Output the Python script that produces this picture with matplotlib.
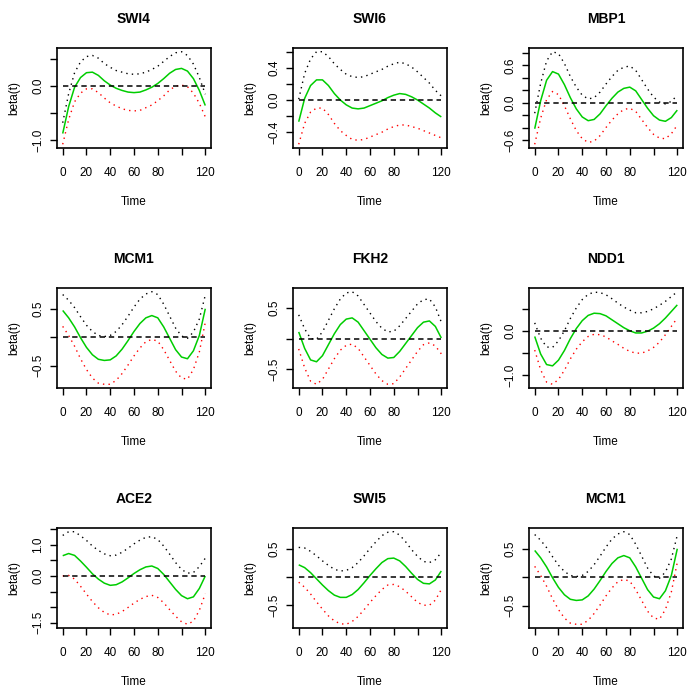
import numpy as np
import matplotlib
matplotlib.use("Agg")
import matplotlib.pyplot as plt

plt.rcParams['font.family'] = ['Liberation Sans', 'DejaVu Sans']

# time grid (minutes)
time = [0, 5, 10, 15, 20, 25, 30, 35, 40, 45, 50, 55, 60,
        65, 70, 75, 80, 85, 90, 95, 100, 105, 110, 115, 120]

# estimated beta(t) and half width of the band (upper = est + hw, lower = est - hw)
swi4_est = [-0.88, -0.38, -0.02, 0.16, 0.25, 0.26, 0.20, 0.10, 0.02, -0.04, -0.08, -0.11, -0.12,
            -0.11, -0.07, -0.02, 0.05, 0.14, 0.24, 0.31, 0.33, 0.28, 0.14, -0.08, -0.36]
swi4_hw = [0.20, 0.24, 0.27, 0.29, 0.30, 0.31, 0.32, 0.32, 0.33, 0.33, 0.34, 0.34, 0.34,
           0.34, 0.33, 0.33, 0.32, 0.32, 0.31, 0.31, 0.31, 0.29, 0.27, 0.24, 0.21]

swi6_est = [-0.27, 0.02, 0.18, 0.25, 0.25, 0.18, 0.08, 0.00, -0.06, -0.10, -0.11, -0.10, -0.07,
            -0.04, -0.01, 0.03, 0.06, 0.08, 0.07, 0.04, 0.00, -0.05, -0.10, -0.16, -0.21]
swi6_hw = [0.28, 0.31, 0.33, 0.35, 0.35, 0.36, 0.37, 0.38, 0.38, 0.39, 0.39, 0.39, 0.39,
           0.39, 0.39, 0.39, 0.39, 0.39, 0.38, 0.37, 0.35, 0.33, 0.31, 0.28, 0.26]

mbp1_est = [-0.42, 0.03, 0.36, 0.50, 0.46, 0.29, 0.08, -0.10, -0.23, -0.29, -0.27, -0.18, -0.05,
            0.07, 0.17, 0.23, 0.25, 0.19, 0.05, -0.09, -0.21, -0.28, -0.30, -0.24, -0.12]
mbp1_hw = [0.25, 0.28, 0.31, 0.32, 0.33, 0.34, 0.34, 0.35, 0.35, 0.35, 0.35, 0.35, 0.35,
           0.35, 0.35, 0.34, 0.34, 0.33, 0.32, 0.31, 0.30, 0.29, 0.28, 0.26, 0.24]

mcm1_est = [0.47, 0.34, 0.18, -0.01, -0.18, -0.31, -0.39, -0.41, -0.40, -0.33, -0.21, -0.06, 0.10,
            0.24, 0.34, 0.38, 0.34, 0.18, -0.02, -0.22, -0.35, -0.38, -0.24, 0.03, 0.50]
mcm1_hw = [0.28, 0.31, 0.34, 0.37, 0.39, 0.41, 0.42, 0.42, 0.43, 0.43, 0.43, 0.43, 0.43,
           0.43, 0.42, 0.42, 0.41, 0.40, 0.39, 0.38, 0.37, 0.36, 0.33, 0.29, 0.24]

fkh2_est = [0.11, -0.16, -0.35, -0.38, -0.28, -0.10, 0.08, 0.23, 0.32, 0.34, 0.27, 0.13, -0.01,
            -0.15, -0.26, -0.32, -0.31, -0.21, -0.08, 0.05, 0.18, 0.27, 0.29, 0.20, 0.01]
fkh2_hw = [0.28, 0.32, 0.35, 0.37, 0.39, 0.40, 0.41, 0.42, 0.43, 0.43, 0.43, 0.43, 0.43,
           0.43, 0.43, 0.43, 0.43, 0.42, 0.41, 0.40, 0.39, 0.37, 0.36, 0.32, 0.26]

ndd1_est = [-0.12, -0.52, -0.76, -0.79, -0.66, -0.44, -0.17, 0.06, 0.24, 0.36, 0.41, 0.40, 0.35,
            0.26, 0.17, 0.08, 0.01, -0.04, -0.04, 0.00, 0.07, 0.17, 0.30, 0.45, 0.60]
ndd1_hw = [0.31, 0.36, 0.40, 0.42, 0.44, 0.45, 0.46, 0.47, 0.48, 0.48, 0.48, 0.48, 0.48,
           0.48, 0.47, 0.47, 0.47, 0.46, 0.46, 0.45, 0.44, 0.42, 0.38, 0.34, 0.30]

ace2_est = [0.65, 0.72, 0.66, 0.48, 0.28, 0.07, -0.10, -0.23, -0.30, -0.28, -0.19, -0.06, 0.08,
            0.20, 0.29, 0.32, 0.24, 0.05, -0.19, -0.43, -0.63, -0.73, -0.67, -0.40, 0.00]
ace2_hw = [0.65, 0.70, 0.76, 0.81, 0.86, 0.89, 0.92, 0.94, 0.95, 0.95, 0.95, 0.95, 0.95,
           0.95, 0.95, 0.94, 0.93, 0.91, 0.89, 0.86, 0.84, 0.82, 0.78, 0.70, 0.57]

swi5_est = [0.22, 0.17, 0.08, -0.03, -0.14, -0.24, -0.32, -0.36, -0.36, -0.31, -0.22, -0.10, 0.03,
            0.15, 0.26, 0.33, 0.34, 0.29, 0.19, 0.07, -0.04, -0.11, -0.12, -0.05, 0.11]
swi5_hw = [0.31, 0.35, 0.38, 0.41, 0.43, 0.45, 0.46, 0.47, 0.48, 0.48, 0.48, 0.48, 0.48,
           0.48, 0.48, 0.47, 0.47, 0.46, 0.44, 0.42, 0.41, 0.39, 0.38, 0.36, 0.33]

genes = ['SWI4', 'SWI6', 'MBP1', 'MCM1', 'FKH2', 'NDD1', 'ACE2', 'SWI5', 'MCM1']
estimates = [swi4_est, swi6_est, mbp1_est, mcm1_est, fkh2_est, ndd1_est, ace2_est, swi5_est, mcm1_est]
halfwidths = [swi4_hw, swi6_hw, mbp1_hw, mcm1_hw, fkh2_hw, ndd1_hw, ace2_hw, swi5_hw, mcm1_hw]

# y ticks and which of them carry a label (R drops crowded labels)
yticks = [[-1.0, -0.5, 0.0, 0.5],
          [-0.4, -0.2, 0.0, 0.2, 0.4, 0.6],
          [-0.6, -0.4, -0.2, 0.0, 0.2, 0.4, 0.6, 0.8],
          [-0.5, 0.0, 0.5],
          [-0.5, 0.0, 0.5],
          [-1.0, -0.5, 0.0, 0.5],
          [-1.5, -1.0, -0.5, 0.0, 0.5, 1.0, 1.5],
          [-0.5, 0.0, 0.5],
          [-0.5, 0.0, 0.5]]
ylabeled = [[-1.0, 0.0], [-0.4, 0.0, 0.4], [-0.6, 0.0, 0.6], [-0.5, 0.5], [-0.5, 0.5],
            [-1.0, 0.0], [-1.5, 0.0, 1.0], [-0.5, 0.5], [-0.5, 0.5]]
xticks = [0, 20, 40, 60, 80, 100, 120]
xlabeled = [0, 20, 40, 60, 80, 120]

W, H = 696, 695
fig = plt.figure(figsize=(W / 100, H / 100), dpi=100)

col_left = [57, 293, 529]
row_top = [48, 288, 528]
box_w, box_h = 154, 100

t = np.array(time, dtype=float)

def fmt(v):
    s = '%.1f' % v
    return s.replace('-', '\u2212')

for i, gene in enumerate(genes):
    r, c = divmod(i, 3)
    ax = fig.add_axes([col_left[c] / W, 1 - (row_top[r] + box_h) / H, box_w / W, box_h / H])
    est = np.array(estimates[i])
    hw = np.array(halfwidths[i])
    upper = est + hw
    lower = est - hw

    ax.plot(t, est, color='#00cd00', lw=1.1, solid_capstyle='butt')
    ax.plot(t, upper, color='black', lw=1.0, linestyle=(0, (1, 3)))
    ax.plot(t, lower, color='red', lw=1.0, linestyle=(0, (1, 3)))
    ax.plot(t, np.zeros_like(t), color='black', lw=1.1, linestyle=(0, (3.5, 2.5)))

    # R style axis ranges: data range plus 4% each side
    lo, hi = lower.min(), upper.max()
    pad = 0.04 * (hi - lo)
    ax.set_ylim(lo - pad, hi + pad)
    ax.set_xlim(-4.8, 124.8)

    ax.set_xticks(xticks)
    ax.set_xticklabels([str(x) if x in xlabeled else '' for x in xticks])
    ax.set_yticks(yticks[i])
    ax.set_yticklabels([fmt(y) if y in ylabeled[i] else '' for y in yticks[i]],
                       rotation=90, va='center')
    ax.tick_params(axis='both', length=5, width=1.0, labelsize=8.5, direction='out')
    ax.tick_params(axis='x', pad=9)
    ax.tick_params(axis='y', pad=4)
    for sp in ax.spines.values():
        sp.set_linewidth(1.2)

    ax.set_title(gene, fontsize=10, fontweight='bold', pad=18)
    ax.set_xlabel('Time', fontsize=8.5, labelpad=12)
    ax.set_ylabel('beta(t)', fontsize=8.5, labelpad=9)

fig.savefig('out.png', dpi=100)
